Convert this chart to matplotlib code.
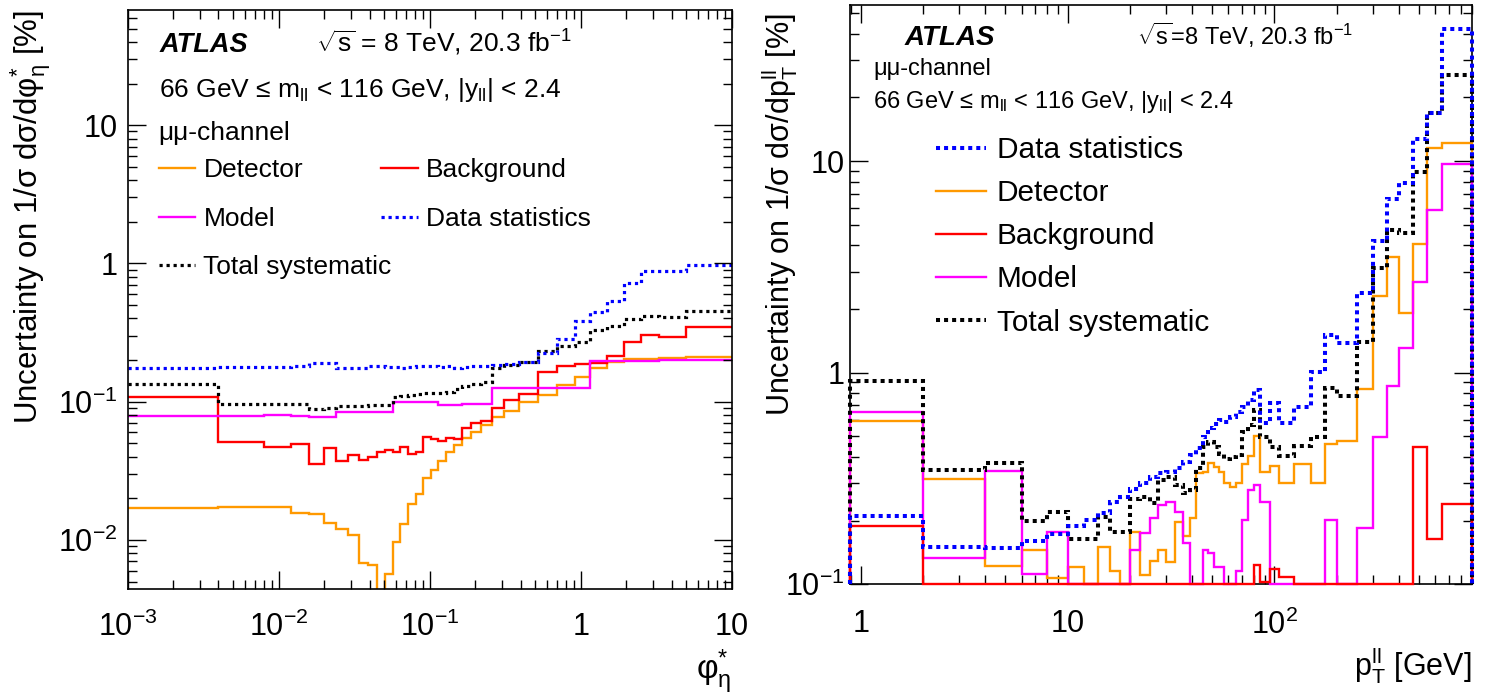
import numpy as np
import matplotlib
matplotlib.use('Agg')
import matplotlib.pyplot as plt
from matplotlib.ticker import LogLocator, NullFormatter

plt.rcParams['font.family'] = ['Liberation Sans', 'DejaVu Sans']
plt.rcParams['mathtext.fontset'] = 'custom'
plt.rcParams['mathtext.rm'] = 'Liberation Sans'
plt.rcParams['mathtext.it'] = 'Liberation Sans:italic'
plt.rcParams['mathtext.bf'] = 'Liberation Sans:bold'
plt.rcParams['mathtext.default'] = 'regular'

### --- Left panel: phi*_eta ---
phi_edges = [0, 0.004, 0.008, 0.012, 0.016, 0.020, 0.024, 0.029, 0.034, 0.039, 0.045,
             0.051, 0.057, 0.064, 0.072, 0.081, 0.091, 0.102, 0.114, 0.128, 0.145,
             0.165, 0.189, 0.219, 0.258, 0.312, 0.391, 0.524, 0.695, 0.918, 1.153,
             1.496, 1.947, 2.522, 3.277, 5.0, 10.0]
phi_detector = [0.0171, 0.0174, 0.0174, 0.0157, 0.0154, 0.0133, 0.0120, 0.0109, 0.0068, 0.0066,
                0.0040, 0.0057, 0.0097, 0.0130, 0.0181, 0.0214, 0.0279, 0.0320, 0.0372, 0.0430,
                0.0486, 0.0543, 0.0606, 0.0677, 0.0778, 0.0855, 0.0988, 0.1116, 0.1319, 0.1515,
                0.1740, 0.1944, 0.2033, 0.2033, 0.2055, 0.2089]
phi_background = [0.1086, 0.0513, 0.0467, 0.0494, 0.0354, 0.0459, 0.0374, 0.0411, 0.0379, 0.0396,
                  0.0430, 0.0447, 0.0430, 0.0472, 0.0416, 0.0430, 0.0558, 0.0534, 0.0519, 0.0543,
                  0.0534, 0.0648, 0.0704, 0.0724, 0.0894, 0.1027, 0.1135, 0.1646, 0.181, 0.187,
                  0.191, 0.2137, 0.271, 0.306, 0.2915, 0.348]
phi_model = [0.0787, 0.0787, 0.0800, 0.0791, 0.0778, 0.0778, 0.0846, 0.0846, 0.0846, 0.0846,
             0.0846, 0.0846, 0.0988, 0.0988, 0.0988, 0.0988, 0.0988, 0.0988, 0.0945, 0.0945,
             0.0945, 0.0961, 0.0961, 0.0961, 0.1261, 0.1261, 0.1261, 0.1261, 0.1261, 0.1261,
             0.1966, 0.1966, 0.1966, 0.1966, 0.1999, 0.1999]
phi_data_stat = [0.1759, 0.177, 0.178, 0.1798, 0.1891, 0.1911, 0.174, 0.1768, 0.174, 0.1798,
                 0.1798, 0.178, 0.178, 0.1768, 0.178, 0.1798, 0.1798, 0.1798, 0.178, 0.1798,
                 0.174, 0.178, 0.1798, 0.1798, 0.183, 0.187, 0.1944, 0.2258, 0.2819, 0.3826,
                 0.447, 0.5368, 0.7244, 0.8843, 0.8843, 0.9721]
phi_total_syst = [0.1353, 0.0961, 0.0961, 0.0961, 0.0879, 0.0894, 0.0929, 0.0934, 0.0934, 0.0945,
                  0.0945, 0.0945, 0.1086, 0.1098, 0.1110, 0.1135, 0.1148, 0.1148, 0.1148, 0.1180,
                  0.1227, 0.1297, 0.1340, 0.1394, 0.1759, 0.1839, 0.1944, 0.2334, 0.2523, 0.2713,
                  0.3295, 0.3521, 0.3934, 0.4158, 0.4067, 0.4519]
phi_xlim = (1e-3, 10)
phi_ylim = (0.0044, 68)
phi_xticks = [1e-3, 1e-2, 1e-1, 1, 10]
phi_xticklabels = ['$10^{-3}$', '$10^{-2}$', '$10^{-1}$', '1', '10']
phi_yticks = [1e-2, 1e-1, 1, 10]
phi_yticklabels = ['$10^{-2}$', '$10^{-1}$', '1', '10']

### --- Right panel: pT(ll) ---
pt_edges = [0, 2, 4, 6, 8, 10, 12, 14, 16, 18, 20, 22.5, 25, 27.5, 30, 33, 36, 39, 42, 45, 48,
            51, 54, 57, 61, 65, 70, 75, 80, 85, 95, 105, 125, 150, 175, 200, 250, 300, 350,
            400, 470, 550, 650, 900]
pt_detector = [0.593, 0.313, 0.122, 0.145, 0.107, 0.121, 0.100, 0.150, 0.115, 0.100,
               0.177, 0.111, 0.129, 0.146, 0.128, 0.196, 0.169, 0.205, 0.335, 0.338,
               0.373, 0.358, 0.340, 0.300, 0.287, 0.302, 0.370, 0.404, 0.502, 0.338,
               0.362, 0.300, 0.370, 0.300, 0.460, 0.477, 0.835, 2.31, 3.53, 1.91,
               4.06, 11.6, 12.2]
pt_background = [0.189, 0.1, 0.1, 0.1, 0.1, 0.1, 0.1, 0.1, 0.1, 0.1,
                 0.1, 0.1, 0.1, 0.1, 0.1, 0.1, 0.1, 0.1, 0.1, 0.1,
                 0.1, 0.1, 0.1, 0.1, 0.1, 0.1, 0.1, 0.1, 0.123, 0.102,
                 0.118, 0.108, 0.1, 0.1, 0.1, 0.1, 0.1, 0.1, 0.1, 0.1,
                 0.447, 0.163, 0.239]
pt_model = [0.652, 0.133, 0.344, 0.112, 0.176, 0.1, 0.1, 0.1, 0.1, 0.1,
            0.145, 0.174, 0.205, 0.237, 0.246, 0.220, 0.157, 0.1, 0.1, 0.146,
            0.140, 0.121, 0.121, 0.1, 0.1, 0.115, 0.201, 0.279, 0.295, 0.246,
            0.1, 0.1, 0.1, 0.1, 0.201, 0.1, 0.184, 0.498, 0.865, 1.31,
            2.69, 5.87, 9.69]
pt_data_stat = [0.210, 0.150, 0.148, 0.161, 0.172, 0.189, 0.201, 0.217, 0.246, 0.259,
                0.281, 0.300, 0.323, 0.336, 0.340, 0.353, 0.380, 0.408, 0.439, 0.498,
                0.546, 0.572, 0.598, 0.587, 0.620, 0.654, 0.686, 0.743, 0.828, 0.577,
                0.717, 0.577, 0.691, 1.01, 1.51, 1.38, 2.37, 4.21, 6.60, 7.90,
                12.7, 16.9, 42.0]
pt_total_syst = [0.914, 0.347, 0.373, 0.199, 0.220, 0.163, 0.163, 0.209, 0.177, 0.176,
                 0.252, 0.259, 0.241, 0.311, 0.323, 0.295, 0.271, 0.279, 0.353, 0.447,
                 0.472, 0.447, 0.413, 0.390, 0.401, 0.408, 0.526, 0.566, 0.666, 0.498,
                 0.447, 0.404, 0.450, 0.498, 0.844, 0.776, 1.40, 3.11, 4.73, 4.56,
                 8.91, 16.8, 25.5]
pt_xlim = (0.888, 900)
pt_ylim = (0.1, 54.7)
pt_xticks = [1, 10, 100]
pt_xticklabels = ['1', '10', '$10^{2}$']
pt_yticks = [0.1, 1, 10]
pt_yticklabels = ['$10^{-1}$', '1', '10']

# colours / line styles per source
colors = {'Detector': '#ff9900', 'Background': '#ff0000', 'Model': '#ff00ff',
          'Data statistics': '#0000ff', 'Total systematic': 'black'}
dotted = {'Data statistics', 'Total systematic'}


def style_axis(ax, xticks, xlabels, yticks, ylabels, xpad, ypad):
    ax.set_xscale('log')
    ax.set_yscale('log')
    ax.set_xticks(xticks, xlabels)
    ax.set_yticks(yticks, ylabels)
    for axis in (ax.xaxis, ax.yaxis):
        axis.set_minor_locator(LogLocator(base=10, subs=np.arange(2, 10), numticks=50))
        axis.set_minor_formatter(NullFormatter())
    ax.tick_params(which='both', direction='in', top=True, right=True, width=1.0)
    ax.tick_params(which='major', length=13, labelsize=22)
    ax.tick_params(which='minor', length=6.5)
    ax.tick_params(axis='x', which='major', pad=xpad)
    ax.tick_params(axis='y', which='major', pad=ypad)
    for s in ax.spines.values():
        s.set_linewidth(1.2)


fig = plt.figure(figsize=(14.9, 6.97), dpi=100)

### --- Left panel ---
ax1 = fig.add_axes([0.0856, 0.1545, 0.4055, 0.8311])
phi_series = [('Detector', phi_detector), ('Background', phi_background), ('Model', phi_model),
              ('Total systematic', phi_total_syst), ('Data statistics', phi_data_stat)]
edges = np.clip(phi_edges, phi_xlim[0], None)
h1 = {}
for name, vals in phi_series:
    ls = (0, (1, 1.2)) if name in dotted else '-'
    lw = 2.3 if name in dotted else 1.7
    h1[name] = ax1.stairs(vals, edges, baseline=None, color=colors[name], linestyle=ls,
                          linewidth=lw, label=name)
ax1.set_xlim(*phi_xlim)
ax1.set_ylim(*phi_ylim)
style_axis(ax1, phi_xticks, phi_xticklabels, phi_yticks, phi_yticklabels, 16, 7)

ax1.set_ylabel('Uncertainty on 1/σ dσ/dφ$^{*}_{η}$ [%]', fontsize=22.5, loc='top')
ax1.yaxis.set_label_coords(-0.124, 1.0)
ax1.set_xlabel('φ$^{*}_{η}$', fontsize=24, loc='right')
ax1.xaxis.set_label_coords(1.0, -0.1)

ax1.text(0.0538, 0.9275, 'ATLAS', transform=ax1.transAxes, fontsize=19.5,
         fontweight='bold', fontstyle='italic')
ax1.text(0.312, 0.9275, '$\\sqrt{s}$ = 8 TeV, 20.3 fb$^{-1}$', transform=ax1.transAxes, fontsize=19)
ax1.text(0.0513, 0.8498, '66 GeV ≤ m$_{ll}$ < 116 GeV, |y$_{ll}$| < 2.4',
         transform=ax1.transAxes, fontsize=19)
ax1.text(0.0513, 0.7756, 'μμ-channel', transform=ax1.transAxes, fontsize=19)

leg_kw = dict(loc='upper left', frameon=False, fontsize=19, borderpad=0, borderaxespad=0,
              handlelength=1.4, handletextpad=0.3, labelspacing=0.95)
order = ['Detector', 'Model', 'Background', 'Data statistics']
leg1 = ax1.legend([h1[k] for k in order], order, ncol=2, columnspacing=2.95,
                  bbox_to_anchor=(0.0513, 0.7445), **leg_kw)
ax1.add_artist(leg1)
ax1.legend([h1['Total systematic']], ['Total systematic'],
           bbox_to_anchor=(0.0513, 0.5775), **leg_kw)

### --- Right panel ---
ax2 = fig.add_axes([0.5705, 0.1617, 0.4172, 0.8311])
pt_series = [('Detector', pt_detector), ('Model', pt_model), ('Background', pt_background),
             ('Total systematic', pt_total_syst), ('Data statistics', pt_data_stat)]
edges = np.clip(pt_edges, pt_xlim[0], None)
h2 = {}
for name, vals in pt_series:
    ls = (0, (1, 1)) if name in dotted else '-'
    lw = 2.9 if name in dotted else 1.7
    h2[name] = ax2.stairs(vals, edges, baseline=pt_ylim[0], color=colors[name], linestyle=ls,
                          linewidth=lw, label=name, clip_on=False, zorder=3)
ax2.set_xlim(*pt_xlim)
ax2.set_ylim(*pt_ylim)
style_axis(ax2, pt_xticks, pt_xticklabels, pt_yticks, pt_yticklabels, 18, 4)

ax2.set_ylabel('Uncertainty on 1/σ dσ/dp$_{T}^{ll}$ [%]', fontsize=22, loc='top')
ax2.yaxis.set_label_coords(-0.08, 0.985)
ax2.set_xlabel('p$_{T}^{ll}$ [GeV]', fontsize=22, loc='right')
ax2.xaxis.set_label_coords(1.0, -0.105)

ax2.text(0.0869, 0.931, 'ATLAS', transform=ax2.transAxes, fontsize=20,
         fontweight='bold', fontstyle='italic')
ax2.text(0.4616, 0.931, '$\\sqrt{s}$=8 TeV, 20.3 fb$^{-1}$', transform=ax2.transAxes, fontsize=17)
ax2.text(0.037, 0.8792, 'μμ-channel', transform=ax2.transAxes, fontsize=17)
ax2.text(0.037, 0.8222, '66 GeV ≤ m$_{ll}$ < 116 GeV, |y$_{ll}$| < 2.4',
         transform=ax2.transAxes, fontsize=17)

order = ['Data statistics', 'Detector', 'Background', 'Model', 'Total systematic']
ax2.legend([h2[k] for k in order], order, loc='upper left', bbox_to_anchor=(0.1383, 0.774),
           frameon=False, fontsize=21.4, borderpad=0, borderaxespad=0,
           handlelength=1.68, handletextpad=0.37, labelspacing=0.51)

fig.savefig('out.png', dpi=100)
